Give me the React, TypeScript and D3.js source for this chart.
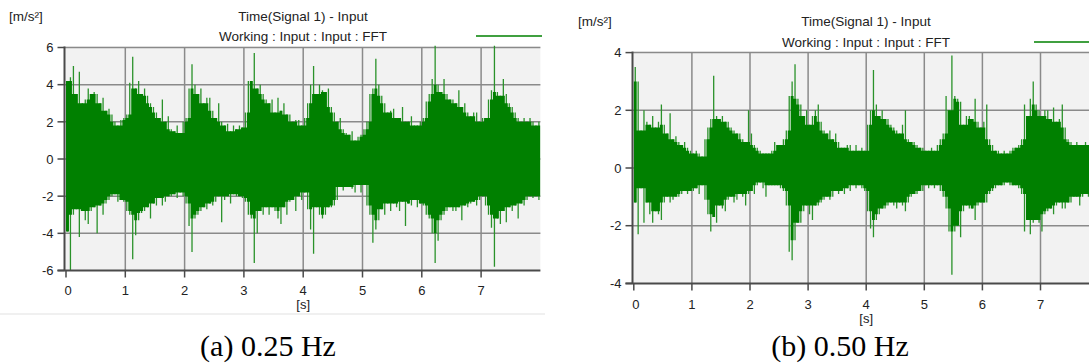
import React, { useEffect, useRef } from 'react';
import * as d3 from 'd3';

// time axis [s]
const timeTicks = [0, 1, 2, 3, 4, 5, 6, 7];
const sampleStep = 0.05; // one max/min pair per 0.05 s bin

// (a) 0.25 Hz, acceleration [m/s²]
const aTicks = [-6, -4, -2, 0, 2, 4, 6];
const aHigh = [
  4.2, 4.4, 5.0, 3.5, 4.7, 3.0, 3.2, 3.8, 3.5, 3.6, 3.5, 3.0, 3.3, 2.6, 2.7, 2.4, 2.0, 1.8, 2.1, 2.2,
  2.4, 4.1, 5.5, 3.8, 4.2, 3.5, 3.8, 3.4, 3.0, 2.8, 2.5, 2.2, 3.2, 2.0, 2.3, 1.6, 1.5, 1.8, 1.4, 2.0,
  2.2, 3.8, 5.1, 4.0, 3.5, 3.8, 3.0, 3.3, 3.3, 2.6, 2.2, 3.0, 2.0, 1.8, 1.9, 1.5, 1.8, 1.6, 1.8, 1.7,
  2.5, 4.2, 4.2, 5.7, 3.8, 4.0, 3.5, 3.2, 3.0, 3.2, 2.5, 3.3, 2.6, 3.0, 2.4, 2.4, 2.0, 2.1, 2.1, 1.8,
  2.2, 3.0, 4.0, 5.0, 3.5, 4.0, 3.7, 3.6, 3.8, 2.8, 2.5, 2.0, 2.2, 1.6, 1.4, 1.3, 1.5, 1.0, 1.2, 1.3,
  1.6, 2.0, 3.5, 3.8, 5.4, 4.0, 3.4, 3.0, 2.5, 2.6, 2.7, 2.2, 2.2, 2.8, 2.0, 2.0, 2.3, 1.8, 1.8, 2.0,
  2.2, 3.1, 3.5, 4.3, 6.1, 4.0, 3.6, 4.3, 3.5, 3.2, 3.2, 3.0, 3.7, 2.8, 3.0, 2.5, 2.3, 2.5, 2.5, 2.0,
  2.2, 2.2, 3.2, 3.7, 6.1, 3.6, 3.4, 4.3, 3.5, 3.0, 2.8, 2.5, 2.2, 2.0, 2.2, 2.0, 2.2, 2.0, 1.8, 2.0,
];
const aLow = [
  -3.9, -6.1, -3.0, -2.7, -4.2, -2.8, -3.3, -3.5, -2.8, -2.6, -4.0, -2.5, -3.0, -2.4, -2.2, -2.0, -1.9, -2.3, -2.2, -2.3,
  -2.8, -3.0, -5.4, -4.1, -3.3, -2.9, -2.8, -2.6, -3.2, -2.4, -2.5, -2.1, -2.5, -2.3, -2.0, -2.0, -1.9, -2.1, -1.8, -2.0,
  -2.4, -3.6, -5.0, -3.2, -3.0, -2.8, -2.6, -2.7, -2.4, -2.5, -2.3, -2.0, -3.4, -2.2, -2.0, -2.4, -1.9, -2.0, -2.0, -2.1,
  -2.3, -3.0, -3.2, -5.6, -4.0, -2.8, -3.0, -2.6, -3.0, -2.6, -2.8, -3.2, -3.5, -2.6, -3.0, -2.3, -2.2, -2.8, -2.0, -2.2,
  -1.8, -2.7, -3.8, -5.1, -2.6, -3.0, -3.2, -3.0, -2.6, -2.6, -2.5, -2.2, -1.5, -1.7, -1.5, -1.5, -1.6, -1.8, -1.4, -1.8,
  -1.4, -2.5, -3.0, -4.5, -3.8, -3.3, -2.7, -3.0, -2.4, -2.8, -2.4, -2.6, -2.8, -2.3, -3.6, -2.4, -2.5, -2.2, -2.6, -2.4,
  -2.5, -3.0, -3.2, -4.0, -5.6, -4.4, -3.3, -3.0, -2.8, -2.6, -2.8, -2.8, -2.6, -3.3, -2.5, -2.6, -2.4, -2.3, -2.5, -2.2,
  -2.0, -2.5, -3.0, -3.7, -5.8, -3.2, -3.5, -2.8, -3.4, -2.6, -2.8, -2.5, -3.2, -2.4, -2.5, -2.2, -2.0, -2.1, -2.0, -2.2,
];

// (b) 0.50 Hz
const bTicks = [-4, -2, 0, 2, 4];
const bHigh = [
  3.5, 3.0, 1.3, 2.0, 1.6, 1.5, 1.8, 1.4, 1.6, 2.2, 1.5, 1.2, 1.9, 1.0, 1.1, 0.9, 0.8, 0.9, 0.7, 0.6,
  0.5, 0.6, 0.5, 0.4, 1.0, 1.4, 1.7, 3.2, 1.8, 1.7, 1.8, 1.6, 1.6, 1.4, 1.3, 1.2, 1.2, 1.0, 0.9, 2.0,
  1.2, 0.8, 0.7, 0.6, 0.5, 0.5, 0.5, 0.6, 0.9, 0.8, 0.8, 1.0, 1.3, 2.5, 3.0, 3.6, 2.4, 2.2, 1.8, 2.0,
  1.5, 1.8, 2.0, 2.2, 1.6, 1.3, 1.2, 1.3, 1.0, 1.2, 0.9, 0.7, 0.7, 0.8, 0.8, 0.6, 0.8, 0.6, 0.7, 0.6,
  1.5, 2.0, 3.4, 2.2, 1.8, 2.0, 1.7, 1.7, 1.5, 1.4, 1.3, 1.2, 1.5, 2.0, 1.0, 0.9, 0.9, 0.8, 0.7, 0.7,
  0.6, 0.6, 0.7, 0.6, 0.8, 1.0, 1.2, 2.5, 2.0, 3.9, 2.5, 2.4, 2.3, 1.5, 1.8, 1.8, 1.7, 2.4, 1.6, 1.4,
  1.6, 2.2, 1.0, 0.8, 0.6, 0.6, 0.5, 0.6, 0.5, 0.6, 0.7, 0.7, 0.8, 1.0, 2.2, 1.8, 2.4, 3.0, 2.2, 2.0,
  1.8, 2.0, 2.0, 1.7, 2.1, 1.6, 1.7, 2.2, 1.4, 1.0, 0.9, 0.8, 0.9, 0.8, 0.8, 0.9, 0.8, 1.0, 0.9, 0.8,
];
const bLow = [
  -1.2, -2.3, -0.7, -1.9, -1.2, -1.6, -1.9, -1.5, -1.6, -1.8, -1.2, -1.0, -1.2, -1.1, -1.0, -1.0, -0.9, -0.8, -0.9, -0.8,
  -0.8, -0.7, -0.9, -0.6, -1.1, -1.6, -2.2, -1.7, -1.9, -1.3, -1.4, -1.5, -1.1, -1.0, -1.2, -1.1, -0.9, -1.0, -1.3, -0.9,
  -0.8, -0.9, -0.6, -0.5, -0.7, -1.0, -0.6, -0.6, -0.6, -0.6, -0.7, -0.8, -1.3, -2.9, -3.2, -2.5, -1.9, -1.9, -1.5, -1.3,
  -1.6, -1.8, -1.3, -1.3, -1.2, -1.1, -1.0, -1.1, -1.0, -0.8, -0.9, -0.8, -0.9, -0.7, -0.8, -0.6, -0.7, -0.6, -0.7, -0.8,
  -1.5, -2.1, -2.4, -1.8, -1.6, -1.4, -1.4, -1.3, -1.2, -1.3, -1.4, -1.2, -1.3, -1.5, -1.2, -1.0, -0.9, -0.9, -0.8, -0.8,
  -0.6, -0.7, -0.6, -0.7, -0.6, -0.8, -1.0, -1.4, -2.2, -3.7, -2.2, -2.0, -2.4, -1.5, -1.3, -1.4, -1.4, -1.8, -1.3, -1.2,
  -1.2, -1.2, -0.9, -0.8, -0.7, -0.6, -0.6, -0.6, -0.5, -0.6, -0.6, -0.6, -0.7, -0.9, -2.2, -1.8, -2.3, -1.9, -1.8, -1.9,
  -2.2, -1.6, -1.5, -1.4, -1.6, -1.3, -1.2, -1.4, -1.4, -1.2, -1.2, -1.0, -1.0, -1.3, -1.0, -0.9, -1.0, -0.9, -1.0, -0.9,
];

const W = 1089, H = 364;
const SANS = 'Liberation Sans, Arial, sans-serif';

const panels = [
  {
    id: 'a', high: aHigh, low: aLow, yTicks: aTicks, yDomain: [-6, 6], caption: '(a) 0.25 Hz',
    axisX: 64.5, x0: 66, x1: 540.4, top: 47.5, bottom: 270.5,
    titleX: 303, titleY: 21, subY: 41, unitX: 9, unitY: 21,
    legend: [476, 542, 36], xLabelY: 295, sLabelY: 309, capX: 268, capY: 356,
  },
  {
    id: 'b', high: bHigh, low: bLow, yTicks: bTicks, yDomain: [-4, 4], caption: '(b) 0.50 Hz',
    axisX: 632.5, x0: 633.8, x1: 1098.6, top: 52.6, bottom: 283.4,
    titleX: 866, titleY: 25.5, subY: 47, unitX: 578, unitY: 25.5,
    legend: [1034, 1095, 42], xLabelY: 308.5, sLabelY: 323, capX: 840, capY: 356,
  },
];

type Bin = { t: number; hi: number; lo: number; coreHi: number; coreLo: number };

const App = () => {
  const svgRef = useRef<SVGSVGElement>(null);

  useEffect(() => {
    const svg = d3.select(svgRef.current);
    svg.selectAll('*').remove();

    // light strip under the left chart control
    svg.append('rect').attr('x', 0).attr('y', 313).attr('width', 545).attr('height', 2).attr('fill', '#f0f0f0');

    panels.forEach(p => {
      const x = d3.scaleLinear().domain([0, 8]).range([p.x0, p.x1]);
      const y = d3.scaleLinear().domain(p.yDomain).range([p.bottom, p.top]);
      const right = Math.min(x(8), W);
      const g = svg.append('g');

      g.append('rect')
        .attr('x', p.axisX).attr('y', p.top - 1)
        .attr('width', right - p.axisX).attr('height', p.bottom - p.top + 1)
        .attr('fill', '#f2f2f2');

      // grid
      g.selectAll('.hgrid').data(p.yTicks.filter(v => v !== p.yDomain[0])).enter()
        .append('line')
        .attr('x1', p.axisX).attr('x2', right)
        .attr('y1', d => y(d)).attr('y2', d => y(d))
        .attr('stroke', '#8a8a8a').attr('stroke-width', 1.5);
      g.selectAll('.vgrid').data(timeTicks.filter(t => t > 0)).enter()
        .append('line')
        .attr('x1', d => x(d)).attr('x2', d => x(d))
        .attr('y1', p.top).attr('y2', p.bottom)
        .attr('stroke', '#8a8a8a').attr('stroke-width', 1.5);

      // signal: thin peaks per bin, dense body where neighbouring bins overlap
      const clipId = `clip-${p.id}`;
      g.append('clipPath').attr('id', clipId)
        .append('rect')
        .attr('x', p.axisX).attr('y', p.top - 4)
        .attr('width', right - p.axisX).attr('height', p.bottom - p.top + 4);

      const n = p.high.length;
      const bins: Bin[] = p.high.map((h, i) => ({
        t: i * sampleStep,
        hi: h,
        lo: p.low[i],
        coreHi: Math.min(h, p.high[Math.max(i - 1, 0)], p.high[Math.min(i + 1, n - 1)]),
        coreLo: Math.max(p.low[i], p.low[Math.max(i - 1, 0)], p.low[Math.min(i + 1, n - 1)]),
      }));

      const peaks = g.append('g').attr('clip-path', `url(#${clipId})`);
      peaks.selectAll('line').data(bins).enter()
        .append('line')
        .attr('x1', d => x(d.t + sampleStep / 2)).attr('x2', d => x(d.t + sampleStep / 2))
        .attr('y1', d => y(d.lo)).attr('y2', d => y(d.hi))
        .attr('stroke', '#2a922a').attr('stroke-width', 1.3);

      const last = bins[n - 1];
      const area = d3.area<Bin>()
        .curve(d3.curveStepAfter)
        .x(d => x(d.t))
        .y0(d => y(d.coreLo))
        .y1(d => y(d.coreHi));
      g.append('path')
        .attr('clip-path', `url(#${clipId})`)
        .attr('d', area([...bins, { ...last, t: 8 }]))
        .attr('fill', '#008000');

      // axes
      g.append('line')
        .attr('x1', p.axisX).attr('x2', p.axisX)
        .attr('y1', p.top - 1).attr('y2', p.bottom)
        .attr('stroke', '#4a4a4a').attr('stroke-width', 2);
      g.append('line')
        .attr('x1', p.axisX - 7).attr('x2', right)
        .attr('y1', p.bottom).attr('y2', p.bottom)
        .attr('stroke', '#4a4a4a').attr('stroke-width', 2);
      g.selectAll('.ytick').data(p.yTicks).enter()
        .append('line')
        .attr('x1', p.axisX - 7).attr('x2', p.axisX)
        .attr('y1', d => y(d)).attr('y2', d => y(d))
        .attr('stroke', '#4a4a4a').attr('stroke-width', 1.5);
      g.selectAll('.xtick').data(timeTicks).enter()
        .append('line')
        .attr('x1', d => x(d)).attr('x2', d => x(d))
        .attr('y1', p.bottom).attr('y2', p.bottom + 7)
        .attr('stroke', '#4a4a4a').attr('stroke-width', 1.5);

      g.selectAll('.ylab').data(p.yTicks).enter()
        .append('text')
        .attr('x', p.axisX - 11).attr('y', d => y(d)).attr('dy', '0.36em')
        .attr('text-anchor', 'end')
        .attr('font-family', SANS).attr('font-size', 13).attr('fill', '#222')
        .text(d => d);
      g.selectAll('.xlab').data(timeTicks).enter()
        .append('text')
        .attr('x', d => x(d) + (d === 0 ? 2 : 0)).attr('y', p.xLabelY)
        .attr('text-anchor', 'middle')
        .attr('font-family', SANS).attr('font-size', 13).attr('fill', '#222')
        .text(d => d);
      g.append('text')
        .attr('x', x(4)).attr('y', p.sLabelY).attr('text-anchor', 'middle')
        .attr('font-family', SANS).attr('font-size', 13).attr('fill', '#222')
        .text('[s]');

      // titles, unit, legend
      g.append('text')
        .attr('x', p.unitX).attr('y', p.unitY)
        .attr('font-family', SANS).attr('font-size', 13.5).attr('fill', '#222')
        .text('[m/s²]');
      g.append('text')
        .attr('x', p.titleX).attr('y', p.titleY).attr('text-anchor', 'middle')
        .attr('font-family', SANS).attr('font-size', 13.5).attr('fill', '#222')
        .text('Time(Signal 1) - Input');
      g.append('text')
        .attr('x', p.titleX).attr('y', p.subY).attr('text-anchor', 'middle')
        .attr('font-family', SANS).attr('font-size', 13.5).attr('fill', '#222')
        .text('Working : Input : Input : FFT');
      g.append('line')
        .attr('x1', p.legend[0]).attr('x2', p.legend[1])
        .attr('y1', p.legend[2]).attr('y2', p.legend[2])
        .attr('stroke', '#008000').attr('stroke-width', 1.5);

      g.append('text')
        .attr('x', p.capX).attr('y', p.capY).attr('text-anchor', 'middle')
        .attr('font-family', 'Liberation Serif, Times New Roman, serif').attr('font-size', 30)
        .attr('fill', '#000')
        .text(p.caption);
    });
  }, []);

  return (
    <svg
      ref={svgRef}
      width={W}
      height={H}
      style={{ position: 'absolute', left: 0, top: 0, background: '#fff' }}
    />
  );
};

export default App;
